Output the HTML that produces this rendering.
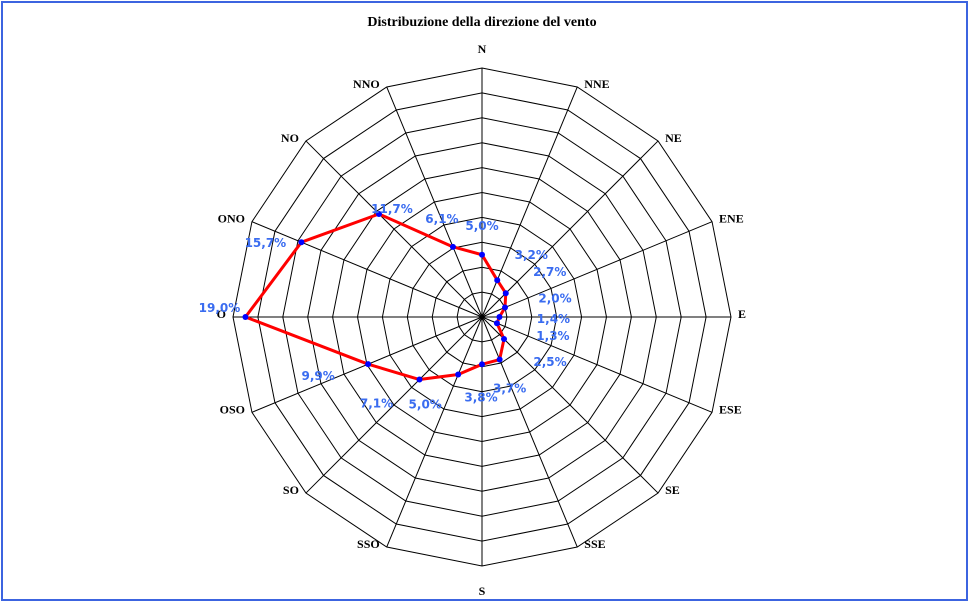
<!DOCTYPE html>
<html><head><meta charset="utf-8"><style>
html,body{margin:0;padding:0;background:#fff}
svg{display:block}
</style></head><body>
<svg id="chart" width="970" height="604" xmlns="http://www.w3.org/2000/svg">
<rect x="2" y="2" width="965" height="598" fill="#fff" stroke="#3c64e0" stroke-width="2"/>
<text x="482" y="26" text-anchor="middle" font-family="Liberation Serif, serif" font-weight="bold" font-size="14">Distribuzione della direzione del vento</text>
<g id="grid"></g>
<g id="series"></g>
</svg>
<script>
const directions = ["N","NNE","NE","ENE","E","ESE","SE","SSE","S","SSO","SO","OSO","O","ONO","NO","NNO"];
const values = [5.0,3.2,2.7,2.0,1.4,1.3,2.5,3.7,3.8,5.0,7.1,9.9,19.0,15.7,11.7,6.1];
const valueLabels = ["5,0%","3,2%","2,7%","2,0%","1,4%","1,3%","2,5%","3,7%","3,8%","5,0%","7,1%","9,9%","19,0%","15,7%","11,7%","6,1%"];
const maxValue = 20;
const ringCount = 10;
// layout constants (label nudges, pixels)
const labelNudge = [[0,-30],[34,-26],[44,-22],[50,-10],[54,1],[56,12],[46,22],[10,28],[-1,32],[-33,29],[-43,23],[-50,11],[-26,-10],[-36,0],[13,-6],[-11,-29]];
const cx = 482, cy = 317, R = 249;
const NS = "http://www.w3.org/2000/svg";
function rScale(v){return v / maxValue * R;}
function pt(i, r){const a = i * 2 * Math.PI / directions.length; return [cx + r * Math.sin(a), cy - r * Math.cos(a)];}
function mk(tag, attrs, parent){const e = document.createElementNS(NS, tag); for (const k in attrs) e.setAttribute(k, attrs[k]); parent.appendChild(e); return e;}
const grid = document.getElementById('grid');
const series = document.getElementById('series');
for (let k = 1; k <= ringCount; k++) {
  const r = R * k / ringCount;
  const p = directions.map((d, i) => pt(i, r).join(',')).join(' ');
  const ring = mk('polygon', {points: p, fill: 'none', stroke: '#000', 'stroke-width': 1}, grid);
  
  
}
directions.forEach((d, i) => {
  const [x, y] = pt(i, R);
  const sp = mk('line', {x1: cx, y1: cy, x2: x, y2: y, stroke: '#000', 'stroke-width': 1}, grid);
  
  
  let lx, ly, anchor;
  if (i === 0) { lx = x; ly = y - 19; anchor = 'middle'; }
  else if (i === 8) { lx = x; ly = y + 25; anchor = 'middle'; }
  else if (i < 8) { lx = x + 7; ly = y - 3; anchor = 'start'; }
  else { lx = x - 7; ly = y - 3; anchor = 'end'; }
  const t = mk('text', {x: lx, y: ly + 4, 'text-anchor': anchor, 'font-family': 'Liberation Serif, serif', 'font-weight': 'bold', 'font-size': 12}, grid);
  t.textContent = d;
  
  
});
const pts = values.map((v, i) => pt(i, rScale(v)));
const poly = mk('polygon', {points: pts.map(p => p.join(',')).join(' '), fill: 'none', stroke: '#ff0000', 'stroke-width': 3, 'stroke-linejoin': 'round'}, series);


pts.forEach((p, i) => {
  const c = mk('circle', {cx: p[0], cy: p[1], r: 3, fill: '#0000ff'}, series);
  
  
});
pts.forEach((p, i) => {
  const t = mk('text', {x: p[0] + labelNudge[i][0], y: p[1] + labelNudge[i][1] + 5, 'text-anchor': 'middle', 'font-family': 'DejaVu Sans, sans-serif', 'font-weight': 'bold', 'font-size': 12, fill: '#3a6cf0'}, series);
  t.textContent = valueLabels[i];
  
  
});
</script>
</body></html>
